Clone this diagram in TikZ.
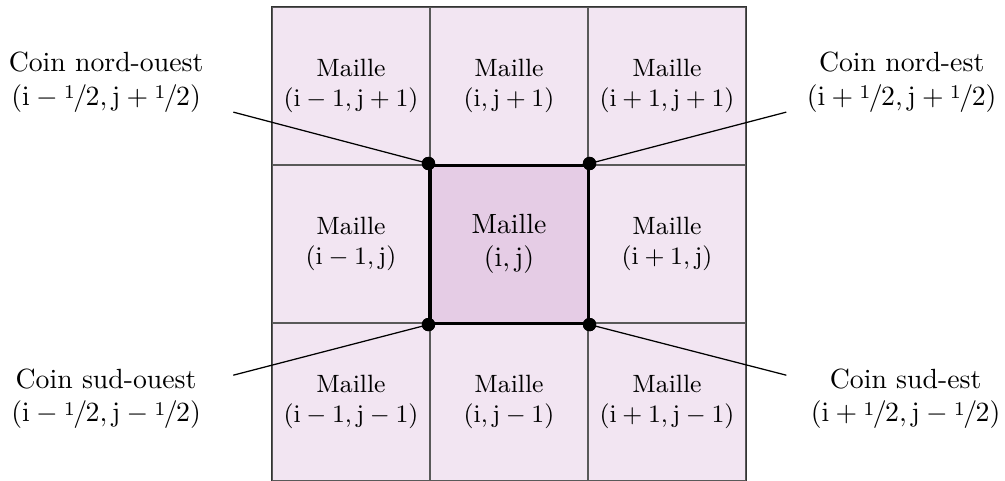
\documentclass[tikz,border=0pt]{standalone}
\newcommand{\dhalf}{{\raisebox{0.55ex}{$\scriptstyle 1$}\mkern-1mu/\mkern-1mu2}}
\begin{document}
\begin{tikzpicture}[
  cell/.style={minimum size=2cm, inner sep=0pt, fill=violet!10, draw=black!65, line width=0.5pt, align=center, font=\small},
  centercell/.style={cell, fill=violet!20, font=\normalsize},
  dot/.style={circle, fill=black, inner sep=0pt, minimum size=4.8pt},
  lab/.style={align=center, inner sep=1pt},
  link/.style={draw=black, line width=0.45pt}
]
\useasboundingbox (-6.443,-2.99) rectangle (6.278,3.089);
% cells
\node[cell] (c11) at (-2, 2) {Maille\\$(\mathrm{i}-1,\mathrm{j}+1)$};
\node[cell] (c21) at ( 0, 2) {Maille\\$(\mathrm{i},\mathrm{j}+1)$};
\node[cell] (c31) at ( 2, 2) {Maille\\$(\mathrm{i}+1,\mathrm{j}+1)$};
\node[cell] (c12) at (-2, 0) {Maille\\$(\mathrm{i}-1,\mathrm{j})$};
\node[cell] (c32) at ( 2, 0) {Maille\\$(\mathrm{i}+1,\mathrm{j})$};
\node[cell] (c13) at (-2,-2) {Maille\\$(\mathrm{i}-1,\mathrm{j}-1)$};
\node[cell] (c23) at ( 0,-2) {Maille\\$(\mathrm{i},\mathrm{j}-1)$};
\node[cell] (c33) at ( 2,-2) {Maille\\$(\mathrm{i}+1,\mathrm{j}-1)$};
\node[centercell, draw=black, line width=1.1pt] (c22) at (0,0) {Maille\\$(\mathrm{i},\mathrm{j})$};
\draw[black!80, line width=0.5pt] (c11.north west) rectangle (c33.south east);
% labels
\node[lab] (tnw) at (-5.10, 2.05) {Coin nord-ouest\\$(\mathrm{i}-\dhalf,\mathrm{j}+\dhalf)$};
\node[lab] (tne) at ( 4.97, 2.05) {Coin nord-est\\$(\mathrm{i}+\dhalf,\mathrm{j}+\dhalf)$};
\node[lab] (tsw) at (-5.10,-1.96) {Coin sud-ouest\\$(\mathrm{i}-\dhalf,\mathrm{j}-\dhalf)$};
\node[lab] (tse) at ( 5.02,-1.96) {Coin sud-est\\$(\mathrm{i}+\dhalf,\mathrm{j}-\dhalf)$};
% link start points
\coordinate (lnw) at (-3.49, 1.67);
\coordinate (lne) at ( 3.51, 1.67);
\coordinate (lsw) at (-3.49,-1.66);
\coordinate (lse) at ( 3.51,-1.66);
% corner dots
\node[dot] (pnw) at (c22.north west) {};
\node[dot] (pne) at (c22.north east) {};
\node[dot] (psw) at (c22.south west) {};
\node[dot] (pse) at (c22.south east) {};
\draw[link] (lnw) -- (pnw.center);
\draw[link] (lne) -- (pne.center);
\draw[link] (lsw) -- (psw.center);
\draw[link] (lse) -- (pse.center);
\node[dot] at (pnw) {};
\node[dot] at (pne) {};
\node[dot] at (psw) {};
\node[dot] at (pse) {};
\end{tikzpicture}
\end{document}
